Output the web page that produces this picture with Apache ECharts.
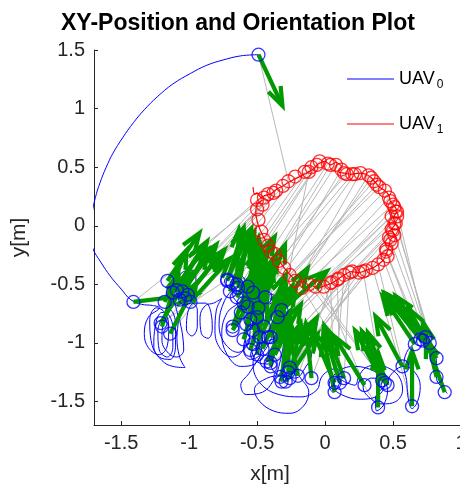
<!DOCTYPE html>
<html><head><meta charset="utf-8">
<script src="https://cdn.jsdelivr.net/npm/echarts@6/dist/echarts.min.js"></script>
<style>html,body{margin:0;padding:0;background:#fff}#c{width:460px;height:484px}</style>
</head><body><div id="c"></div>
<script>
// ---- axis settings ----
const xTicks = [-1.5, -1, -0.5, 0, 0.5, 1];
const yTicks = [-1.5, -1, -0.5, 0, 0.5, 1, 1.5];

// ---- UAV0 trajectory (blue) ----
const uav0Path = [
[-0.49,1.46],[-0.62,1.45],[-0.75,1.415],[-0.87,1.37],[-0.99,1.30],[-1.12,1.21],[-1.235,1.10],[-1.33,0.99],[-1.41,0.88],[-1.49,0.75],[-1.56,0.62],[-1.61,0.50],[-1.655,0.37],[-1.69,0.24],[-1.715,0.10],[-1.73,-0.05],[-1.71,-0.19],[-1.65,-0.31],[-1.58,-0.43],[-1.50,-0.54],[-1.43,-0.63],[-1.35,-0.67],[-1.27,-0.68],
[-1.22,-0.70],[-1.30,-0.78],[-1.33,-0.92],[-1.30,-1.04],[-1.22,-1.10],[-1.16,-1.02],[-1.15,-0.86],[-1.18,-0.74],[-1.24,-0.70],
[-1.29,-0.80],[-1.28,-0.98],[-1.22,-1.12],[-1.14,-1.14],[-1.10,-1.02],[-1.10,-0.84],[-1.14,-0.72],
[-1.18,-0.76],[-1.23,-0.90],[-1.22,-1.06],[-1.16,-1.12],[-1.12,-1.04],[-1.12,-0.88],[-1.15,-0.76],
[-1.20,-0.74],[-1.25,-0.86],[-1.26,-1.03],[-1.20,-1.15],[-1.12,-1.20],[-1.03,-1.21],[-1.07,-1.12],[-1.09,-0.95],[-1.08,-0.80],[-1.10,-0.68],
[-1.11,-0.58],[-1.09,-0.47],[-1.04,-0.39],[-0.97,-0.38],[-0.95,-0.48],[-0.99,-0.58],[-1.05,-0.63],
[-1.13,-0.70],[-1.19,-0.82],[-1.20,-0.98],[-1.15,-1.09],[-1.09,-1.12],[-1.04,-1.06],[-1.05,-0.92],[-1.07,-0.78],[-1.03,-0.68],
[-0.98,-0.66],[-0.94,-0.72],[-0.94,-0.86],[-0.98,-0.94],[-1.02,-0.88],[-1.01,-0.74],[-0.96,-0.66],
[-0.88,-0.66],[-0.84,-0.74],[-0.83,-0.88],[-0.86,-0.96],[-0.91,-0.92],[-0.92,-0.78],[-0.88,-0.68],[-0.82,-0.66],
[-0.76,-0.62],[-0.80,-0.72],[-0.81,-0.90],[-0.77,-1.05],[-0.68,-1.12],[-0.60,-1.05],[-0.58,-0.88],[-0.62,-0.70],[-0.68,-0.58],
[-0.66,-0.52],[-0.74,-0.64],[-0.78,-0.84],[-0.74,-1.00],[-0.64,-1.08],[-0.56,-0.98],[-0.55,-0.80],[-0.60,-0.64],
[-0.74,-0.47],[-0.68,-0.42],[-0.60,-0.44],[-0.58,-0.56],[-0.64,-0.66],[-0.72,-0.74],[-0.76,-0.92],[-0.72,-1.10],[-0.62,-1.20],[-0.52,-1.18],[-0.47,-1.05],[-0.48,-0.88],[-0.54,-0.74],
[-0.60,-0.60],[-0.56,-0.50],[-0.50,-0.52],[-0.48,-0.64],[-0.52,-0.80],[-0.58,-0.94],[-0.60,-1.06],[-0.55,-1.14],[-0.48,-1.10],[-0.46,-0.96],[-0.44,-0.80],[-0.42,-0.66],[-0.40,-0.58],[-0.36,-0.62],
[-0.44,-0.70],[-0.50,-0.90],[-0.54,-1.04],[-0.50,-1.16],[-0.42,-1.18],[-0.38,-1.04],[-0.38,-0.84],[-0.36,-0.66],
[-0.36,-0.74],[-0.38,-0.90],[-0.42,-1.02],[-0.48,-1.12],[-0.56,-1.26],[-0.62,-1.36],[-0.58,-1.44],[-0.46,-1.42],[-0.38,-1.32],[-0.34,-1.20],
[-0.30,-0.98],[-0.28,-0.80],[-0.31,-0.70],[-0.35,-0.76],[-0.36,-0.96],[-0.40,-1.14],[-0.38,-1.24],[-0.30,-1.28],[-0.24,-1.22],
[-0.18,-1.30],[-0.12,-1.42],[-0.16,-1.54],[-0.26,-1.60],[-0.38,-1.58],[-0.48,-1.50],[-0.52,-1.40],[-0.46,-1.32],[-0.34,-1.28],[-0.22,-1.30],[-0.14,-1.20],
[-0.10,-1.10],[-0.20,-0.98],[-0.34,-0.96],[-0.48,-1.04],[-0.53,-1.18],[-0.48,-1.34],[-0.34,-1.44],[-0.18,-1.46],[-0.06,-1.40],[-0.03,-1.30],
[0.02,-1.24],[0.08,-1.22],[0.12,-1.28],[0.10,-1.36],[0.06,-1.42],[0.03,-1.36],
[0.10,-1.24],[0.22,-1.20],[0.36,-1.24],[0.44,-1.32],[0.40,-1.44],[0.26,-1.48],[0.12,-1.44],[0.05,-1.36],
[0.10,-1.31],[0.16,-1.34],[0.22,-1.36],[0.25,-1.28],[0.30,-1.21],[0.38,-1.19],[0.46,-1.21],[0.54,-1.28],[0.57,-1.40],[0.52,-1.50],[0.42,-1.52],[0.32,-1.46],[0.28,-1.38],[0.34,-1.30],[0.42,-1.32],[0.46,-1.40],[0.43,-1.53],[0.38,-1.58],[0.37,-1.48],[0.44,-1.36],[0.50,-1.25],[0.58,-1.20],[0.66,-1.25],[0.70,-1.37],[0.68,-1.50],[0.64,-1.56],[0.61,-1.46],[0.60,-1.32],[0.58,-1.20],[0.60,-1.08],[0.66,-1.00],[0.72,-0.94],[0.76,-0.96],[0.80,-1.06],[0.82,-1.18],[0.82,-1.30],[0.86,-1.38],[0.90,-1.43]
];

// ---- UAV1 trajectory (red) ----
const uav1Path = [
[-0.53,0.33],[-0.52,0.27],[-0.50,0.28],[-0.47,0.24],[-0.44,0.26],[-0.40,0.27],[-0.36,0.31],[-0.31,0.34],[-0.27,0.37],[-0.22,0.40],[-0.17,0.43],[-0.12,0.46],[-0.08,0.49],[-0.06,0.52],[-0.03,0.54],[0.00,0.55],[0.04,0.52],[0.08,0.54],[0.12,0.51],[0.10,0.46],[0.14,0.45],[0.19,0.44],[0.25,0.45],[0.30,0.44],[0.34,0.41],[0.37,0.37],[0.40,0.33],[0.44,0.30],[0.47,0.26],[0.48,0.21],[0.51,0.17],[0.53,0.12],[0.50,0.07],[0.52,0.02],[0.49,-0.03],[0.51,-0.08],[0.48,-0.12],[0.47,-0.18],[0.45,-0.24],[0.43,-0.29],[0.39,-0.33],[0.35,-0.36],[0.30,-0.38],[0.25,-0.40],[0.19,-0.39],[0.14,-0.42],[0.09,-0.46],[0.05,-0.49],[0.00,-0.51],[-0.05,-0.53],[-0.10,-0.51],[-0.15,-0.54],[-0.20,-0.49],[-0.24,-0.44],[-0.28,-0.39],[-0.32,-0.33],[-0.36,-0.27],[-0.39,-0.22],[-0.42,-0.16],[-0.45,-0.10],[-0.48,-0.03],[-0.50,0.04],[-0.51,0.11],[-0.50,0.18],[-0.46,0.22]
];

// ---- sampled positions (circles) and headings ----
const uav0MarkX = [-0.49,-1.41,-1.16,-1.09,-1.05,-1.01,-0.99,-1.07,-1.18,-1.21,-1.14,-1.20,-0.72,-0.68,-0.64,-0.57,-0.53,-0.44,-0.65,-0.60,-0.32,-0.35,-0.55,-0.68,-0.53,-0.48,-0.60,-0.40,-0.53,-0.55,-0.43,-0.40,-0.33,-0.26,-0.27,-0.32,-0.10,0.07,0.11,0.07,0.29,0.44,0.46,0.39,0.64,0.57,0.66,0.70,0.74,0.77,0.82,0.82,0.88,-0.26,-0.72,-0.65,-0.50,-0.42,-0.68,-0.40,
  -0.70,-0.62,-0.57,-0.49,-0.45,-0.58,-0.50,-0.46,-0.37,-0.29,-0.20,0.14,0.42,0.72,-1.12,-1.03];
const uav0MarkY = [1.46,-0.65,-0.47,-0.55,-0.56,-0.59,-0.65,-0.63,-0.65,-0.83,-0.92,-0.86,-0.47,-0.49,-0.53,-0.52,-0.57,-0.61,-0.61,-0.66,-0.72,-0.78,-0.80,-0.89,-0.89,-0.95,-0.97,-0.95,-1.01,-1.06,-1.16,-1.20,-1.29,-1.21,-1.25,-1.33,-1.30,-1.34,-1.34,-1.42,-1.36,-1.34,-1.36,-1.55,-1.54,-1.20,-1.01,-0.97,-0.95,-1.00,-1.13,-1.29,-1.42,-1.30,-0.46,-0.50,-0.78,-0.95,-0.86,-1.17,
  -0.56,-0.74,-0.69,-0.70,-0.86,-0.84,-1.10,-1.05,-1.10,-1.33,-1.28,-1.30,-1.32,-0.98,-0.57,-0.62];
const uav0Heading = [-68,8,60,62,58,55,52,64,70,62,66,75,75,70,80,65,85,72,60,78,45,62,70,62,80,66,75,70,82,75,68,80,72,65,90,85,95,110,105,100,118,111,108,90,90,115,120,124,128,122,116,102,107,80,68,88,76,64,72,78,
  72,68,80,74,70,76,84,70,66,60,100,108,115,126,60,56];
const uav1MarkX = [-0.27,-0.45,-0.50,-0.42,-0.36,-0.31,-0.47,-0.49,-0.45,-0.40,-0.22,-0.50,-0.15,-0.10,-0.04,0.02,0.08,0.12,0.16,0.20,0.26,0.32,0.36,0.40,0.44,0.47,0.50,0.52,0.49,0.51,0.50,0.47,0.49,0.45,0.30,0.25,0.20,0.14,0.09,0.04,-0.01,-0.07,-0.12,-0.17,0.35,0.39,0.43,0.46,0.48,0.51,0.52,0.53,0.48,-0.22,-0.26,-0.30,-0.34,-0.37,-0.42,-0.12,
  -0.06,0.04,0.14,0.22,0.34,0.38,0.51,0.53,0.49,0.10,0.05,0.18,0.28,0.45,-0.46,-0.38];
const uav1MarkY = [0.38,0.24,0.22,0.27,0.30,0.34,-0.05,0.05,-0.12,-0.22,0.42,0.14,0.46,0.50,0.55,0.53,0.52,0.48,0.44,0.44,0.45,0.43,0.38,0.33,0.30,0.24,0.18,0.12,0.08,0.02,-0.04,-0.10,-0.15,-0.20,-0.38,-0.40,-0.39,-0.42,-0.46,-0.49,-0.52,-0.52,-0.50,-0.53,-0.36,-0.33,-0.29,-0.26,-0.12,-0.08,0.02,0.12,0.21,-0.47,-0.42,-0.36,-0.30,-0.24,-0.17,0.46,
  0.52,0.52,0.45,0.44,0.41,0.35,0.16,0.08,-0.03,-0.45,-0.48,-0.40,-0.39,-0.22,0.18,0.28];
const arrowLength = 0.47;

// ---- build series data ----
const blueMarks = uav0MarkX.map((x, i) => [x, uav0MarkY[i]]);
const redMarks = uav1MarkX.map((x, i) => [x, uav1MarkY[i]]);
const arrows = uav0MarkX.map((x, i) => {
  const a = uav0Heading[i] * Math.PI / 180;
  return [x, uav0MarkY[i], arrowLength * Math.cos(a), arrowLength * Math.sin(a)];
});
const links = blueMarks.map((p, i) => ({ coords: [p, redMarks[i]] }));

const GREEN = '#009900';
const FONT = 'Liberation Sans';

const chart = echarts.init(document.getElementById('c'), null, { renderer: 'canvas' });
const tickFmt = (ticks) => (v) => {
  for (const t of ticks) if (Math.abs(v - t) < 1e-6) return String(t);
  return '';
};

chart.setOption({
  animation: false,
  backgroundColor: '#fff',
  title: {
    text: 'XY-Position and Orientation Plot',
    left: 56, top: 7,
    textStyle: { fontFamily: FONT, fontSize: 23, fontWeight: 'bold', color: '#000' }
  },
  legend: {
    orient: 'vertical', left: 342, top: 63,
    itemWidth: 47, itemHeight: 22, itemGap: 22,
    icon: 'path://M0,0L0.05,0L0.05,0.05L0,0.05Z M0,10.4L47,10.4L47,11.6L0,11.6Z M0,21.95L0.05,21.95L0.05,22L0,22Z',
    data: ['UAV0', 'UAV1'],
    formatter: (n) => n === 'UAV0' ? 'UAV{s|0}' : 'UAV{s|1}',
    textStyle: {
      fontFamily: FONT, fontSize: 18, color: '#000',
      rich: { s: { fontFamily: FONT, fontSize: 12, color: '#000', padding: [12, 0, 0, 2] } }
    }
  },
  grid: { left: 94, top: 50, width: 367, height: 375, containLabel: false, outerBoundsMode: 'none' },
  xAxis: {
    type: 'value', min: -1.7, max: 1,
    name: 'x[m]', nameLocation: 'middle', nameGap: 39,
    nameTextStyle: { fontFamily: FONT, fontSize: 21, color: '#262626', padding: [0, 15, 0, 0] },
    axisLine: { show: true, onZero: false, lineStyle: { color: '#262626', width: 1 } },
    axisTick: { show: true, inside: true, length: 4, lineStyle: { color: '#262626' } },
    axisLabel: { fontFamily: FONT, fontSize: 20, color: '#262626', margin: 8, formatter: tickFmt(xTicks) },
    splitLine: { show: false }
  },
  yAxis: {
    type: 'value', min: -1.7, max: 1.5,
    name: 'y[m]', nameLocation: 'middle', nameGap: 64, nameRotate: 90,
    nameTextStyle: { fontFamily: FONT, fontSize: 21, color: '#262626' },
    axisLine: { show: true, onZero: false, lineStyle: { color: '#262626', width: 1 } },
    axisTick: { show: true, inside: true, length: 4, lineStyle: { color: '#262626' } },
    axisLabel: { fontFamily: FONT, fontSize: 20, color: '#262626', margin: 9, formatter: tickFmt(yTicks) },
    splitLine: { show: false }
  },
  series: [
    {
      type: 'lines', coordinateSystem: 'cartesian2d', silent: true, z: 1,
      lineStyle: { color: '#b8b8b8', width: 1, opacity: 1 },
      symbol: 'none',
      data: links
    },
    {
      name: 'UAV0', type: 'line', data: uav0Path, showSymbol: false, symbol: 'none',
      smooth: 0.4, z: 2, clip: true,
      lineStyle: { color: '#0000ff', width: 1 }, itemStyle: { color: '#0000ff' }
    },
    {
      name: 'UAV1', type: 'line', data: uav1Path, showSymbol: false, symbol: 'none',
      smooth: 0.2, z: 3, clip: true,
      lineStyle: { color: '#ff0000', width: 1.2 }, itemStyle: { color: '#ff0000' }
    },
    {
      type: 'custom', z: 4, clip: true, silent: true,
      dimensions: ['x', 'y', 'u', 'v'],
      encode: { x: 0, y: 1 },
      data: arrows,
      renderItem: function (params, api) {
        const x = api.value(0), y = api.value(1), u = api.value(2), v = api.value(3);
        const a = api.coord([x, y]), b = api.coord([x + u, y + v]);
        const dx = b[0] - a[0], dy = b[1] - a[1];
        const L = Math.sqrt(dx * dx + dy * dy) || 1;
        const ux = dx / L, uy = dy / L, h = L * 0.33, w = L * 0.12;
        const bx = b[0] - ux * h, by = b[1] - uy * h;
        const l = [bx - uy * w, by + ux * w], r = [bx + uy * w, by - ux * w];
        const st = { stroke: GREEN, lineWidth: 4.2, fill: null, lineJoin: 'miter' };
        return {
          type: 'group',
          children: [
            { type: 'polyline', shape: { points: [a, b] }, style: st },
            { type: 'polyline', shape: { points: [l, b, r] }, style: st }
          ]
        };
      }
    },
    {
      type: 'scatter', data: blueMarks, symbol: 'circle', symbolSize: 13, z: 5, silent: true,
      itemStyle: { color: 'rgba(0,0,0,0)', borderColor: '#0000ff', borderWidth: 1.3 }
    },
    {
      type: 'scatter', data: redMarks, symbol: 'circle', symbolSize: 13, z: 6, silent: true,
      itemStyle: { color: 'rgba(0,0,0,0)', borderColor: '#ff0000', borderWidth: 1.3 }
    }
  ]
});
</script></body></html>
